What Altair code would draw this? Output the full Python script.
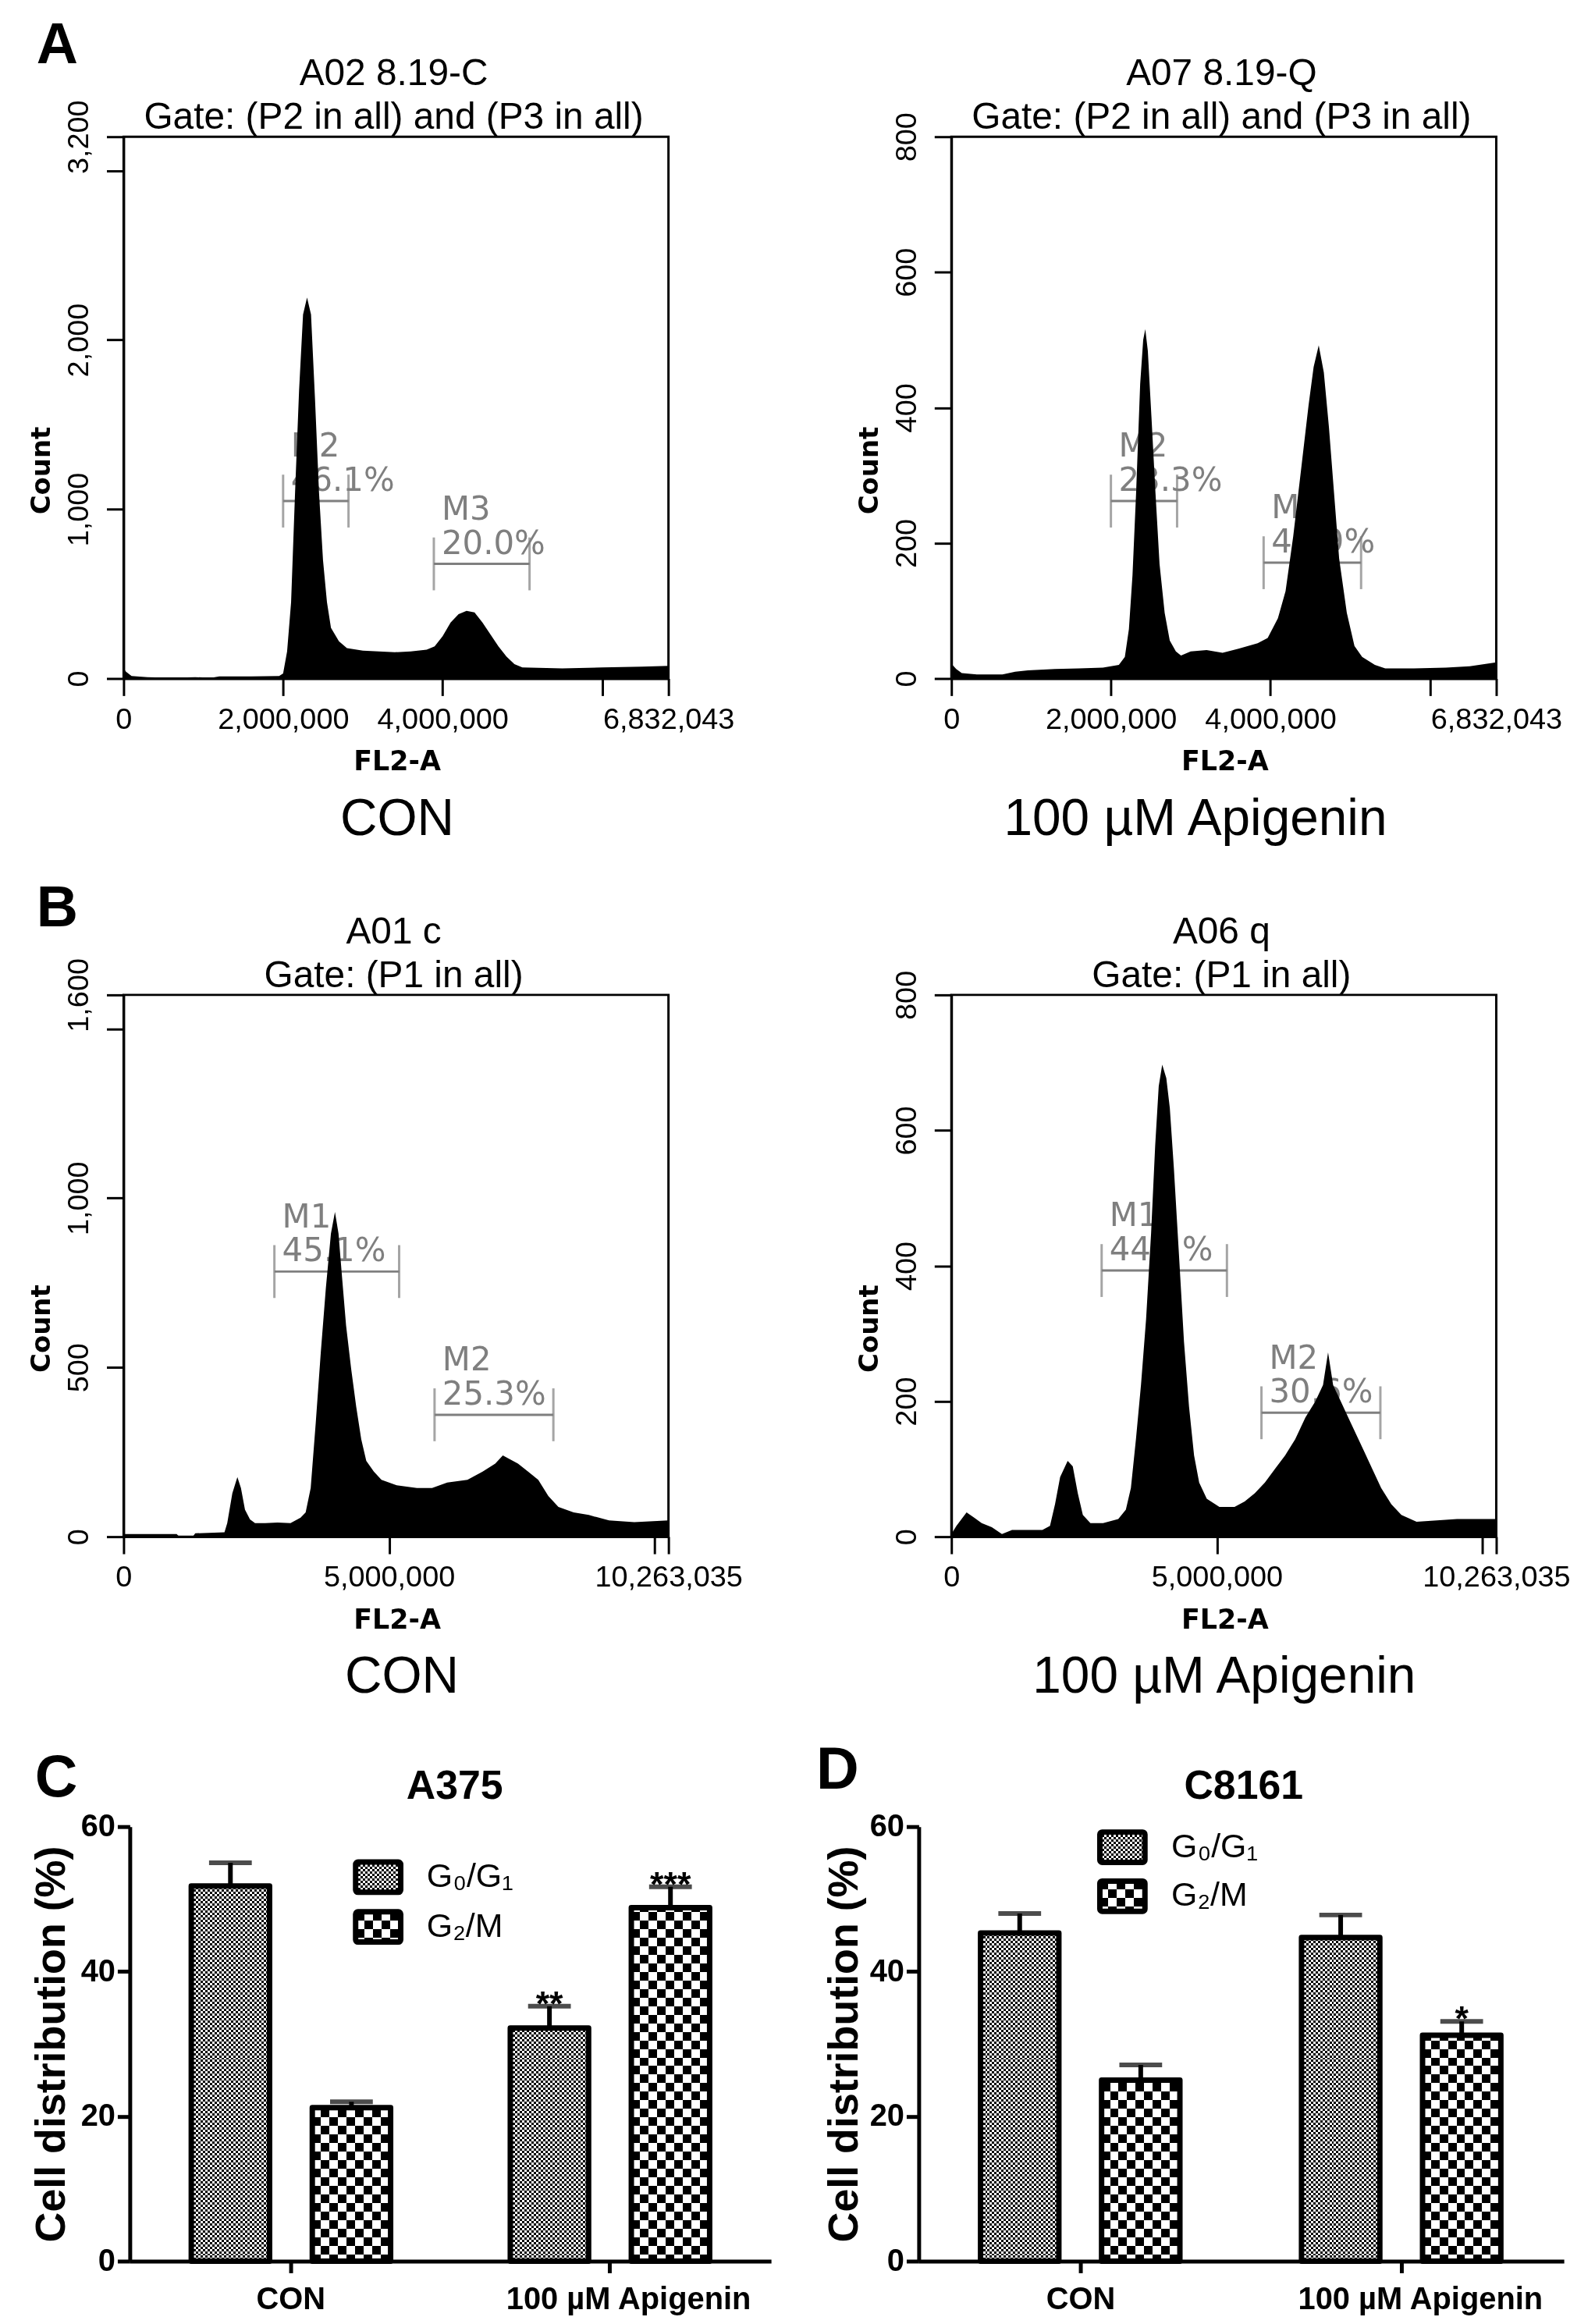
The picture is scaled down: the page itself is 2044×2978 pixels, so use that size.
import altair as alt
import pandas as pd

SANS = "DejaVu Sans"
ARIAL = "Liberation Sans"
GRAY = "#7f7f7f"

# ---- flow cytometry histograms: FL2-A (millions) and event count ----
a02_fl2 = [0, 0.03, 0.1, 0.3, 0.6, 0.9, 1.1, 1.2, 1.6, 1.95,
           2.0, 2.05, 2.1, 2.15, 2.2, 2.25, 2.3, 2.35, 2.4, 2.45,
           2.5, 2.55, 2.6, 2.7, 2.8, 3.0, 3.2, 3.4, 3.6, 3.8,
           3.9, 4.0, 4.1, 4.2, 4.3, 4.4, 4.5, 4.6, 4.7, 4.8,
           4.9, 5.0, 5.5, 6.0, 6.5, 6.832043]
a02_count = [60, 40, 15, 8, 5, 8, 5, 12, 12, 15,
             30, 160, 450, 1100, 1700, 2150, 2250, 2150, 1650, 1100,
             700, 450, 300, 220, 180, 165, 160, 155, 160, 170,
             190, 250, 330, 380, 400, 390, 330, 260, 190, 130,
             85, 65, 60, 65, 70, 75]
a02_gates = {"x0": [2.0, 3.89], "x1": [2.82, 5.09], "y": [1048, 677],
             "name": ["M2", "M3"], "pct": ["46.1%", "20.0%"]}

a07_fl2 = [0, 0.06, 0.13, 0.32, 0.64, 0.8, 0.96, 1.3, 1.6, 1.9,
           2.1, 2.175, 2.226, 2.271, 2.316, 2.367, 2.405, 2.431, 2.463, 2.508,
           2.559, 2.61, 2.674, 2.738, 2.815, 2.879, 3.0, 3.2, 3.4, 3.6,
           3.84, 3.966, 4.094, 4.19, 4.286, 4.382, 4.478, 4.542, 4.606, 4.67,
           4.734, 4.798, 4.862, 4.958, 5.054, 5.15, 5.31, 5.44, 5.8, 6.2,
           6.5, 6.832043]
a07_count = [22, 14, 8, 6, 6, 10, 12, 14, 15, 16,
             20, 32, 73, 153, 274, 435, 500, 516, 484, 387,
             274, 169, 97, 56, 40, 34, 40, 42, 38, 44,
             52, 60, 89, 129, 210, 306, 403, 460, 492, 452,
             371, 274, 177, 97, 48, 32, 20, 15, 15, 16,
             18, 24]
a07_gates = {"x0": [2.0, 3.915], "x1": [2.83, 5.137], "y": [262, 171],
             "name": ["M2", "M3"], "pct": ["23.3%", "48.9%"]}

a01_fl2 = [0, 0.1, 1.0, 1.05, 1.3, 1.35, 1.9, 1.952, 2.048, 2.143,
           2.21, 2.286, 2.381, 2.476, 2.667, 2.9, 3.143, 3.333, 3.429, 3.524,
           3.619, 3.714, 3.81, 3.905, 3.981, 4.048, 4.114, 4.19, 4.286, 4.381,
           4.476, 4.571, 4.714, 4.857, 5.143, 5.524, 5.81, 6.095, 6.476, 6.762,
           7.0, 7.143, 7.238, 7.429, 7.619, 7.81, 8.0, 8.19, 8.476, 8.762,
           9.143, 9.619, 10.263035]
a01_count = [8, 8, 8, 0, 0, 10, 13, 40, 128, 176,
             144, 80, 51, 40, 40, 42, 40, 56, 72, 144,
             336, 544, 735, 895, 959, 895, 767, 624, 496, 384,
             288, 224, 192, 168, 152, 144, 144, 160, 168, 192,
             216, 240, 232, 216, 192, 168, 120, 88, 72, 64,
             48, 43, 48]
a01_gates = {"x0": [2.84, 5.857], "x1": [5.19, 8.095], "y": [783, 360],
             "name": ["M1", "M2"], "pct": ["45.1%", "25.3%"]}

a06_fl2 = [0, 0.095, 0.286, 0.429, 0.571, 0.762, 0.952, 1.143, 1.714, 1.857,
           1.952, 2.048, 2.19, 2.286, 2.381, 2.476, 2.619, 2.857, 3.143, 3.286,
           3.381, 3.476, 3.571, 3.667, 3.762, 3.838, 3.905, 3.971, 4.048, 4.114,
           4.19, 4.286, 4.381, 4.476, 4.571, 4.667, 4.81, 5.048, 5.333, 5.524,
           5.714, 5.905, 6.095, 6.286, 6.476, 6.667, 6.857, 7.0, 7.095, 7.19,
           7.333, 7.476, 7.619, 7.762, 7.905, 8.095, 8.286, 8.476, 8.762, 9.143,
           9.524, 10.263035]
a06_count = [4, 16, 36, 28, 20, 14, 4, 10, 10, 16,
             48, 88, 112, 104, 64, 32, 20, 20, 26, 40,
             72, 144, 224, 321, 449, 577, 665, 697, 677, 633,
             545, 417, 288, 192, 120, 80, 56, 44, 44, 52,
             64, 80, 100, 120, 144, 176, 200, 224, 272, 224,
             200, 176, 152, 128, 104, 72, 48, 32, 22, 24,
             26, 26]
a06_gates = {"x0": [2.83, 5.84], "x1": [5.19, 8.08], "y": [393, 183],
             "name": ["M1", "M2"], "pct": ["44.1%", "30.6%"]}

# ---- cell-cycle distribution (%) ----
groups = ["CON", "100 µM Apigenin"]
phases = ["G0/G1", "G2/M"]
phase_labels = ["G₀/G₁", "G₂/M"]
a375_mean = [51.8, 21.2, 32.2, 48.8]
a375_err = [3.2, 0.8, 3.0, 2.9]
a375_stars = ["", "", "**", "***"]
c8161_mean = [45.3, 25.0, 44.7, 31.2]
c8161_err = [2.7, 2.1, 3.1, 1.9]
c8161_stars = ["", "", "", "*"]


def one_row():
    return alt.Chart(pd.DataFrame({"a": [0]}))


def text(t, x, y, size, font=SANS, weight="normal", angle=0, align="center",
         baseline="middle", color="black"):
    return alt.Chart(pd.DataFrame({"t": [t]})).mark_text(
        font=font, fontSize=size, fontWeight=weight, angle=angle, align=align,
        baseline=baseline, color=color,
    ).encode(x=alt.value(x), y=alt.value(y), text="t:N")


def frame(x0, x1, y0, y1):
    # invisible cell behind each panel: fixes the panel's extent in the layout
    return one_row().mark_rect(color="white", opacity=0).encode(
        x=alt.value(x0), x2=alt.value(x1), y=alt.value(y0), y2=alt.value(y1))


def label_expr(hidden):
    if not hidden:
        return "format(datum.value, ',')"
    cond = " || ".join(f"datum.value == {v}" for v in hidden)
    return f"({cond}) ? '' : format(datum.value, ',')"


HW, HH = 701, 697


def histogram(fl2, count, gates, xmax, xticks, xhide, ymax, yticks, yhide,
              title, gate, caption, caption_x, box, letter=None):
    df = pd.DataFrame({"fl2": [v * 1e6 for v in fl2], "count": count})
    gdf = pd.DataFrame(gates)
    gdf["x0"] = gdf["x0"] * 1e6
    gdf["x1"] = gdf["x1"] * 1e6

    xaxis = alt.Axis(values=xticks, labelExpr=label_expr(xhide), title=None, grid=False,
                     labelFont=ARIAL, labelFontSize=38, labelColor="black",
                     labelPadding=31, labelBaseline="middle", labelFlush=False,
                     labelOverlap=False, labelLimit=0, tickSize=22, tickWidth=3,
                     tickColor="black", domainColor="black", domainWidth=3)
    yaxis = alt.Axis(values=yticks, labelExpr=label_expr(yhide), title=None, grid=False,
                     labelFont=ARIAL, labelFontSize=38, labelColor="black",
                     labelAngle=270, labelAlign="center", labelBaseline="middle",
                     labelPadding=35, labelFlush=False, labelOverlap=False,
                     labelLimit=0, tickSize=22, tickWidth=3, tickColor="black",
                     domainColor="black", domainWidth=3)
    xs = alt.Scale(domain=[0, xmax], nice=False, zero=False)
    ys = alt.Scale(domain=[0, ymax], nice=False)

    gbase = alt.Chart(gdf)
    gy = alt.Y("y:Q", scale=ys, axis=yaxis)
    rule = gbase.mark_rule(color=GRAY, strokeWidth=3).encode(
        x=alt.X("x0:Q", scale=xs, axis=xaxis), x2="x1:Q", y=gy)
    ends = [gbase.mark_tick(orient="vertical", size=68, thickness=3, color=GRAY).encode(
        x=alt.X(f"{c}:Q", scale=xs, axis=xaxis), y=gy) for c in ("x0", "x1")]
    names = gbase.mark_text(font=SANS, fontSize=42, color=GRAY, align="left",
                            baseline="middle", dx=10, dy=-70).encode(
        x=alt.X("x0:Q", scale=xs, axis=xaxis), y=gy, text="name:N")
    pcts = gbase.mark_text(font=SANS, fontSize=42, color=GRAY, align="left",
                           baseline="middle", dx=10, dy=-26).encode(
        x=alt.X("x0:Q", scale=xs, axis=xaxis), y=gy, text="pct:N")
    area = alt.Chart(df).mark_area(color="black", interpolate="linear").encode(
        x=alt.X("fl2:Q", scale=xs, axis=xaxis),
        y=alt.Y("count:Q", scale=ys, axis=yaxis))

    layers = [frame(*box), rule, *ends, names, pcts, area,
              text(title, HW / 2 - 3, -80, 48, font=ARIAL),
              text(gate, HW / 2 - 3, -24, 48, font=ARIAL),
              text("Count", -105, HH / 2 + 81, 34, weight="bold", angle=270),
              text("FL2-A", 352, HH + 107, 35, weight="bold"),
              text(caption, caption_x, HH + 181, 66, font=ARIAL)]
    if letter:
        layers.append(text(letter[0], letter[1], letter[2], 74, font=ARIAL,
                           weight="bold", align="left", baseline="alphabetic"))
    return alt.layer(*layers).properties(
        width=HW, height=HH, view=alt.ViewBackground(stroke="black", strokeWidth=3))


def stripes(cell, length, vertical):
    stops = []
    k = 0
    while k * cell < length:
        color = "white" if k % 2 == 0 else "black"
        a = round(k * cell / length, 5)
        b = round(min((k + 1) * cell / length, 1.0), 5)
        stops.append(alt.GradientStop(offset=a, color=color))
        stops.append(alt.GradientStop(offset=b, color=color))
        k += 1
    if vertical:
        return alt.LinearGradient(gradient="linear", stops=stops, x1=0, x2=1, y1=0, y2=0)
    return alt.LinearGradient(gradient="linear", stops=stops, x1=0, x2=0, y1=0, y2=1)


PAD_IN, PAD_OUT = 0.36, 0.185
SUB_IN, SUB_OUT = 0.353, 0.02
CELLS = {"G0/G1": 3, "G2/M": 11}
BH = 559


def bar_chart(mean, err, stars, title, letter, legend, ytitle_x, width, box, shift=0):
    # shift: distance of the y axis from the panel's left edge
    step = width / (2 - PAD_IN + 2 * PAD_OUT)
    step2 = step * (1 - PAD_IN) / (2 - SUB_IN + 2 * SUB_OUT)
    bw = step2 * (1 - SUB_IN)

    df = pd.DataFrame({"group": [g for g in groups for _ in phases],
                       "phase": phases * len(groups),
                       "value": mean, "err": err, "star": stars})
    df["top"] = df["value"] + df["err"]

    xaxis = alt.Axis(title=None, labelAngle=0, labelFont=ARIAL, labelFontWeight="bold",
                     labelFontSize=40, labelColor="black", labelPadding=34,
                     labelOffset=alt.ConditionalAxisNumber(
                         condition={"test": "datum.value === 'CON'", "value": 0},
                         value=24),
                     labelBaseline="middle", labelLimit=0, tickSize=15, tickWidth=5,
                     tickColor="black", domainWidth=5, domainColor="black", grid=False)
    yaxis = alt.Axis(title=None, values=[0, 20, 40, 60], labelFont=ARIAL,
                     labelFontWeight="bold", labelFontSize=40, labelColor="black",
                     labelPadding=3, tickSize=16, tickWidth=5, tickColor="black",
                     domainWidth=5, domainColor="black", grid=False, offset=-shift)
    x = alt.X("group:N", scale=alt.Scale(domain=groups, paddingInner=PAD_IN,
                                         paddingOuter=PAD_OUT,
                                         range=[shift, shift + width]), axis=xaxis)
    xo = alt.XOffset("phase:N", scale=alt.Scale(domain=phases, paddingInner=SUB_IN,
                                                paddingOuter=SUB_OUT))
    ys = alt.Scale(domain=[0, 60], nice=False)
    y = alt.Y("value:Q", scale=ys, axis=yaxis)
    ytop = alt.Y("top:Q", scale=ys, axis=yaxis)

    base = alt.Chart(df)
    layers = [frame(*box)]
    for ph in phases:
        sub = base.transform_filter(alt.datum.phase == ph)
        cell = CELLS[ph]
        layers.append(sub.mark_rect(fill=stripes(cell, bw, True)).encode(
            x=x, xOffset=xo, y=alt.value(BH), y2=alt.value(0)))
        layers.append(sub.mark_rect(fill=stripes(cell, BH, False), blend="difference").encode(
            x=x, xOffset=xo, y=alt.value(BH), y2=alt.value(0)))
    layers.append(base.mark_rect(fill="white", stroke="white", strokeWidth=3).encode(
        x=x, xOffset=xo, y=y, y2=alt.Y2Datum(60)))
    layers.append(base.mark_bar(fillOpacity=0, stroke="black", strokeWidth=7,
                                strokeJoin="round").encode(x=x, xOffset=xo, y=y))
    layers.append(base.mark_rule(color="black", strokeWidth=6).encode(
        x=x, xOffset=xo, y=y, y2="top:Q"))
    layers.append(base.mark_tick(color="black", thickness=6, size=55).encode(
        x=x, xOffset=xo, y=ytop))
    layers.append(base.mark_text(font=ARIAL, fontWeight="bold", fontSize=45,
                                 baseline="alphabetic", dy=12).encode(
        x=x, xOffset=xo, y=ytop, text="star:N"))

    lx0, lx1, ly, tx = legend
    lx0, lx1, tx = lx0 + shift, lx1 + shift, tx + shift
    for i, ph in enumerate(phases):
        y0, y1 = ly[i], ly[i] + 39
        pos = dict(x=alt.value(lx0), x2=alt.value(lx1), y=alt.value(y0), y2=alt.value(y1))
        cell = CELLS[ph]
        layers.append(one_row().mark_rect(fill=stripes(cell, lx1 - lx0, True)).encode(**pos))
        layers.append(one_row().mark_rect(fill=stripes(cell, 39, False),
                                          blend="difference").encode(**pos))
        layers.append(one_row().mark_rect(fillOpacity=0, stroke="black", strokeWidth=7,
                                          strokeJoin="round", cornerRadius=3).encode(**pos))
        layers.append(text(phase_labels[i], tx, y0 + 19, 43, font=ARIAL, align="left"))

    layers.append(text(title, shift + 418, -52, 52, font=ARIAL, weight="bold"))
    layers.append(text("Cell distribution (%)", shift + ytitle_x, 280, 54, font=ARIAL,
                       weight="bold", angle=270))
    layers.append(text(letter[0], shift + letter[1], letter[2], 76, font=ARIAL,
                       weight="bold", align="left", baseline="alphabetic"))
    return alt.layer(*layers).properties(
        width=width + shift, height=BH, view=alt.ViewBackground(stroke="transparent"))


A_X = [0, 2000000, 4000000, 6000000, 6832043]
B_X = [0, 5000000, 10000000, 10263035]

a_left = histogram(a02_fl2, a02_count, a02_gates, 6832043, A_X, [6000000],
                   3200, [0, 1000, 2000, 3000, 3200], [3000],
                   "A02 8.19-C", "Gate: (P2 in all) and (P3 in all)",
                   "CON", 352, (-149, 873, -160, 927), letter=("A", -112, -95))
a_right = histogram(a07_fl2, a07_count, a07_gates, 6832043, A_X, [6000000],
                    800, [0, 200, 400, 600, 800], [],
                    "A07 8.19-Q", "Gate: (P2 in all) and (P3 in all)",
                    "100 µM Apigenin", 314, (-188, 818, -160, 927))
b_left = histogram(a01_fl2, a01_count, a01_gates, 10263035, B_X, [10000000],
                   1600, [0, 500, 1000, 1500, 1600], [1500],
                   "A01 c", "Gate: (P1 in all)",
                   "CON", 358, (-149, 873, -173, 939), letter=("B", -112, -88))
b_right = histogram(a06_fl2, a06_count, a06_gates, 10263035, B_X, [10000000],
                    800, [0, 200, 400, 600, 800], [],
                    "A06 q", "Gate: (P1 in all)",
                    "100 µM Apigenin", 351, (-188, 818, -173, 939))

c_chart = bar_chart(a375_mean, a375_err, a375_stars, "A375", ("C", -122, -39),
                    (290.5, 348.5, [45.5, 109.5], 382), -100, 825,
                    (-149, 883, -129, 639), shift=8)
d_chart = bar_chart(c8161_mean, c8161_err, c8161_stars, "C8161", ("D", -132, -49),
                    (233, 291, [7, 70], 325), -95, 830,
                    (-140, 856, -129, 639))

row1 = alt.hconcat(a_left, a_right, spacing=0)
row2 = alt.hconcat(b_left, b_right, spacing=0)
row3 = alt.hconcat(c_chart, d_chart, spacing=0)

chart = (
    alt.vconcat(row1, row2, row3, spacing=0)
    .properties(padding=0)
    .configure(font=SANS)
    .configure_view(stroke="transparent", strokeWidth=0)
)

chart.save("out.html", embed_options={"renderer": "svg", "actions": False})
